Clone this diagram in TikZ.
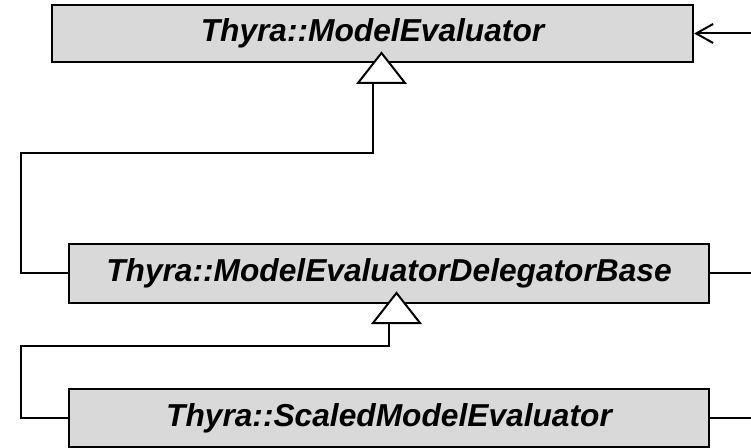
\documentclass[tikz,border=0pt]{standalone}
\usepackage{fontspec}
\setmainfont{Liberation Sans}
\usetikzlibrary{arrows.meta}

\definecolor{boxgray}{HTML}{D9D9D9}

\tikzset{
    classbox/.style={draw=black, line width=2.2pt, fill=boxgray, inner sep=0pt,
        minimum width=640pt, minimum height=58pt,
        font=\fontsize{31.7}{38}\selectfont\bfseries\itshape},
    conn/.style={draw=black, line width=2pt},
    inhtri/.style={draw=black, line width=2pt, fill=white, line join=miter}
}

\begin{document}
\begin{tikzpicture}[x=1pt, y=1pt]
    \useasboundingbox (0,0) rectangle (751,447);

    % Classes
    \node[classbox, minimum width=641pt, minimum height=57pt] (model) at (372.5,413.5) {Thyra::ModelEvaluator};
    \node[classbox, minimum height=59pt] (delegator) at (389,173.5) {Thyra::ModelEvaluatorDelegatorBase};
    \node[classbox] (scaled) at (389,29) {Thyra::ScaledModelEvaluator};

    % Bases of the inheritance triangles
    \coordinate (tri1) at (373,364);
    \coordinate (tri2) at (389,124);

    % Inheritance lines, round the left side
    \draw[conn] (delegator.west) -| (21,294) -| (tri1);
    \draw[conn] (scaled.west) -| (21,101) -| (tri2);

    % Open triangles (apex inside the base class)
    \draw[inhtri] (tri1) ++(-15,0) -- ++(23.5,30) -- ++(23.5,-30) -- cycle;
    \draw[inhtri] (tri2) ++(-16,0) -- ++(23.5,30) -- ++(23.5,-30) -- cycle;

    % Stubs leaving on the right
    \coordinate (out1) at (751,413.5);
    \draw[conn, -{Straight Barb[length=17pt, width=19pt, line width=2pt]}] (out1) -- (model.east);
    \foreach \cls in {delegator, scaled} {
        \draw[conn] (\cls.east) -- (\cls.east -| out1);
    }
\end{tikzpicture}
\end{document}
